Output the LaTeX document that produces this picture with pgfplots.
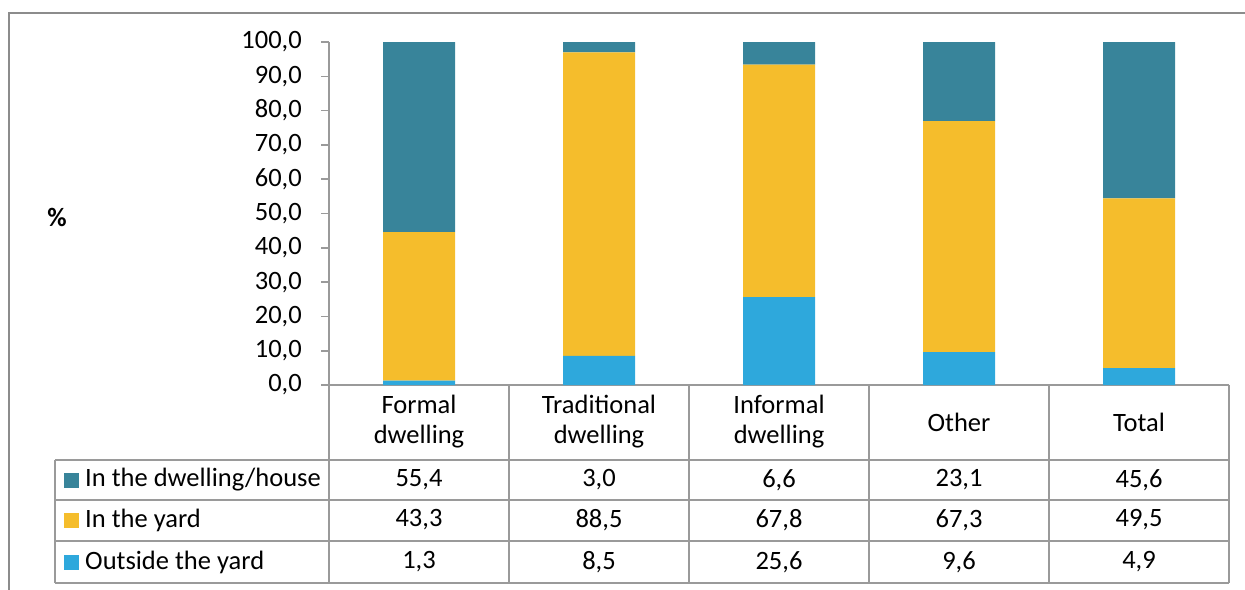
\documentclass[border=0pt]{standalone}
\usepackage{fontspec}
\setmainfont{Carlito}
\usepackage{pgfplots}
\pgfplotsset{compat=1.18}

\definecolor{cHouse}{HTML}{38849A}
\definecolor{cYard}{HTML}{F5BD2C}
\definecolor{cOut}{HTML}{2EA8DC}
\definecolor{cLine}{HTML}{9A9A9A}
\definecolor{cFrame}{HTML}{8C8C8C}

\begin{document}
\fontsize{13.25}{15}\selectfont
\begin{tikzpicture}[x=0.5pt,y=-0.5pt]
\useasboundingbox (0,0) rectangle (1245,589);
% outer chart frame
\draw[cFrame, line width=0.8pt] (9,600) -- (9,13) -- (1260,13);

\begin{axis}[
    at={(164.5pt,-192.5pt)}, anchor=south west,
    scale only axis,
    width=450pt, height=171.5pt,
    xmin=-0.5, xmax=4.5,
    ymin=0, ymax=100,
    ybar stacked,
    bar width=36pt,
    axis x line*=bottom, axis y line*=left,
    axis line style={cLine, line width=0.8pt, -},
    xtick=\empty,
    ytick={0,10,...,100},
    tick align=outside,
    major tick length=4pt,
    y tick style={cLine, line width=0.8pt},
    /pgf/number format/assume math mode=true,
    yticklabel={\pgfmathprintnumber[fixed,fixed zerofill,precision=1,use comma]{\tick}},
    yticklabel style={font=\fontsize{13.25}{15}\selectfont, text=black, xshift=-5pt},
    clip=false,
]
% Outside the yard
\addplot[fill=cOut, draw=none] coordinates {(0,1.3) (1,8.5) (2,25.6) (3,9.6) (4,4.9)};
% In the yard
\addplot[fill=cYard, draw=none] coordinates {(0,43.3) (1,88.5) (2,67.8) (3,67.3) (4,49.5)};
% In the dwelling/house
\addplot[fill=cHouse, draw=none] coordinates {(0,55.4) (1,3.0) (2,6.6) (3,23.1) (4,45.6)};
\end{axis}

% % label
\node[font=\bfseries] at (57,217) {\%};

% data table
\begin{scope}[cLine, line width=0.8pt]
\foreach \x in {329,509,689,869,1049,1229} \draw (\x,385) -- (\x,583);
\foreach \y in {460,500,541,583} \draw (55,\y) -- (1229,\y);
\draw (55,460) -- (55,583);
\end{scope}

\foreach \x/\t in {419/{Formal\\dwelling},599/{Traditional\\dwelling},779/{Informal\\dwelling},959/{Other},1139/{Total}}
  \node[align=center, font=\fontsize{13.25}{15}\selectfont] at (\x,422) {\t};

\fill[cHouse] (64,473) rectangle (79,488);
\fill[cYard] (64,513) rectangle (79,528);
\fill[cOut] (64,555) rectangle (79,570);
\node[anchor=west] at (76,480) {In the dwelling/house};
\node[anchor=west] at (76,520) {In the yard};
\node[anchor=west] at (76,562) {Outside the yard};

\foreach \x/\a/\b/\c in {419/{55,4}/{43,3}/{1,3}, 599/{3,0}/{88,5}/{8,5}, 779/{6,6}/{67,8}/{25,6}, 959/{23,1}/{67,3}/{9,6}, 1139/{45,6}/{49,5}/{4,9}}{
  \node at (\x,480) {\a};
  \node at (\x,520) {\b};
  \node at (\x,562) {\c};
}
\end{tikzpicture}
\end{document}
